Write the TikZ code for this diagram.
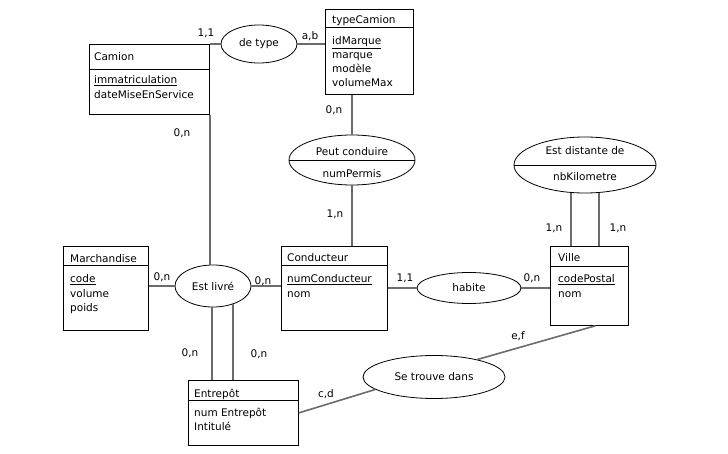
\documentclass[tikz,border=0pt]{standalone}
\usepackage{fontspec}
\setmainfont{DejaVu Sans}
\usetikzlibrary{shapes.geometric,calc}
\begin{document}
\begin{tikzpicture}[x=1pt,y=-1pt,
  every node/.style={font=\fontsize{10.5}{12}\selectfont},
  ent/.style={draw=black,line width=0.8pt,rectangle,inner sep=0pt,anchor=north west},
  rel/.style={draw=black,line width=0.8pt,ellipse,inner sep=0pt},
  txt/.style={anchor=base west,inner sep=0pt},
  card/.style={inner sep=0pt},
  conn/.style={draw=black!58,line width=1.6pt},
  hdr/.style={draw=black,line width=0.8pt}
]
\fill[white] (0,0) rectangle (728,454);
\useasboundingbox (0,0) rectangle (728,454);

% entities
\node[ent,minimum width=120pt,minimum height=70pt] (camion) at (89,44) {};
\draw[hdr] ($(camion.north west)+(0,25)$) -- ($(camion.north east)+(0,25)$);
\node[txt] (camionT) at (94,61) {Camion};
\node[txt] (camionA) at (94,84) {\underline{immatriculation}};
\node[txt] (camionB) at (94,99) {dateMiseEnService};

\node[ent,minimum width=88pt,minimum height=85pt] (typec) at (325,9) {};
\draw[hdr] ($(typec.north west)+(0,18)$) -- ($(typec.north east)+(0,18)$);
\node[txt] (typecT) at (332,24) {typeCamion};
\node[txt] (typecA) at (332,45) {\underline{idMarque}};
\node[txt] (typecB) at (332,59) {marque};
\node[txt] (typecC) at (332,73) {modèle};
\node[txt] (typecD) at (332,87) {volumeMax};

\node[ent,minimum width=85pt,minimum height=84pt] (march) at (63,246) {};
\draw[hdr] ($(march.north west)+(0,19)$) -- ($(march.north east)+(0,19)$);
\node[txt] (marchT) at (70,263) {Marchandise};
\node[txt] (marchA) at (70,283) {\underline{code}};
\node[txt] (marchB) at (70,298) {volume};
\node[txt] (marchC) at (70,312) {poids};

\node[ent,minimum width=106pt,minimum height=84pt] (cond) at (281,246) {};
\draw[hdr] ($(cond.north west)+(0,19)$) -- ($(cond.north east)+(0,19)$);
\node[txt] (condT) at (287,262) {Conducteur};
\node[txt] (condA) at (287,283) {\underline{numConducteur}};
\node[txt] (condB) at (287,298) {nom};

\node[ent,minimum width=78pt,minimum height=79pt] (ville) at (550,246) {};
\draw[hdr] ($(ville.north west)+(0,20)$) -- ($(ville.north east)+(0,20)$);
\node[txt] (villeT) at (558,262) {Ville};
\node[txt] (villeA) at (558,283) {\underline{codePostal}};
\node[txt] (villeB) at (558,298) {nom};

\node[ent,minimum width=110pt,minimum height=65pt] (entr) at (188,380) {};
\draw[hdr] ($(entr.north west)+(0,20)$) -- ($(entr.north east)+(0,20)$);
\node[txt] (entrT) at (194,397) {Entrepôt};
\node[txt] (entrA) at (194,416) {num Entrepôt};
\node[txt] (entrB) at (194,430) {Intitulé};

% relations
\node[rel,minimum width=76pt,minimum height=38pt] (detype) at (259,44) {de type};
\node[rel,minimum width=126pt,minimum height=50pt] (peut) at (352,160) {};
\draw[hdr] (peut.west) -- (peut.east);
\node[card] (peutT) at (352,152) {Peut conduire};
\node[card] (peutA) at (352,174) {numPermis};
\node[rel,minimum width=142pt,minimum height=56pt] (dist) at (585,165) {};
\draw[hdr] (dist.west) -- (dist.east);
\node[card] (distT) at (585,151) {Est distante de};
\node[card] (distA) at (585,177) {nbKilometre};
\node[rel,minimum width=76pt,minimum height=42pt] (livre) at (213,286) {Est livré};
\node[rel,minimum width=104pt,minimum height=31pt] (habite) at (469,288) {habite};
\node[rel,minimum width=142pt,minimum height=43pt] (trouve) at (434,377) {Se trouve dans};

% connectors
\draw[conn] (camion.north east) -- (detype.west);
\draw[conn] (detype.east) -- (detype.east -| typec.west);
\draw[conn] (camion.south east) -- (camion.south east |- livre.north);
\draw[conn] (peut.north) -- (peut.north |- typec.south);
\draw[conn] (peut.south) -- (peut.south |- cond.north);
\draw[conn] (march.east |- livre.west) -- (livre.west);
\draw[conn] (livre.east) -- (livre.east -| cond.west);
\draw[conn] (livre.-93) -- (livre.-93 |- entr.north);
\draw[conn] (livre.-42) -- (livre.-42 |- entr.north);
\draw[conn] (cond.east |- habite.west) -- (habite.west);
\draw[conn] (habite.east) -- (habite.east -| ville.west);
\draw[conn] (dist.-117) -- (dist.-117 |- ville.north);
\draw[conn] (dist.-63) -- (dist.-63 |- ville.north);
\coordinate (villeS) at ($(ville.south)+(6,0)$);
\draw[conn] (villeS) -- (trouve.22);
\draw[conn] (trouve.192) -- (entr.east);

% cardinalities
\node[card] (c1) at (206,33) {1,1};
\node[card] (c2) at (310,36) {a,b};
\node[card] (c3) at (334,110) {0,n};
\node[card] (c4) at (182,133) {0,n};
\node[card] (c5) at (335,214) {1,n};
\node[card] (c6) at (554,228) {1,n};
\node[card] (c7) at (618,228) {1,n};
\node[card] (c8) at (405,278) {1,1};
\node[card] (c9) at (532,278) {0,n};
\node[card] (c10) at (518,336) {e,f};
\node[card] (c11) at (326,394) {c,d};
\node[card] (c12) at (162,277) {0,n};
\node[card] (c13) at (263,281) {0,n};
\node[card] (c14) at (190,353) {0,n};
\node[card] (c15) at (259,354) {0,n};
\end{tikzpicture}
\end{document}
